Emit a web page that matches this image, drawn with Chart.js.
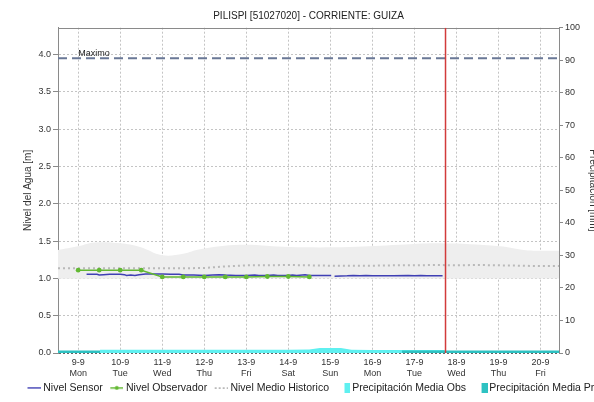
<!DOCTYPE html>
<html>
<head>
<meta charset="utf-8">
<script src="https://cdn.jsdelivr.net/npm/chart.js@4.4.1/dist/chart.umd.min.js"></script>
<style>
  html, body { margin: 0; padding: 0; background: #fff; overflow: hidden; }
  #wrap { width: 620px; height: 403px; }
</style>
</head>
<body>
<div id="wrap"><canvas id="grafico"></canvas></div>
<script>
const TITULO = "PILISPI [51027020] - CORRIENTE: GUIZA";
const FONT = "'Liberation Sans', Arial, sans-serif";

// eje x en dias desde 9-9 00:00
const X_MIN = -0.48;
const X_MAX = 11.44;
const X_TICKS = [0, 1, 2, 3, 4, 5, 6, 7, 8, 9, 10, 11];
const DIAS = ["9-9", "10-9", "11-9", "12-9", "13-9", "14-9", "15-9", "16-9", "17-9", "18-9", "19-9", "20-9"];
const SEMANA = ["Mon", "Tue", "Wed", "Thu", "Fri", "Sat", "Sun", "Mon", "Tue", "Wed", "Thu", "Fri"];

const NIVEL_MAX = 4.36;
const NIVEL_TICKS = [0, 0.5, 1, 1.5, 2, 2.5, 3, 3.5, 4];
const PRECIP_MAX = 100;
const PRECIP_TICKS = [0, 10, 20, 30, 40, 50, 60, 70, 80, 90, 100];

const MAXIMO = 3.95;
const MAXIMO_LABEL_X = 0;
const AHORA = 8.74;

const sensorX = [0.2, 0.45, 0.5, 0.6, 0.75, 1.0, 1.1, 1.15, 1.25, 1.35, 1.45, 1.6, 1.8, 2.0, 2.2, 2.4, 2.5, 2.75, 3.0, 3.2, 3.35, 3.5, 3.75, 4.0, 4.2, 4.3, 4.5, 4.65, 4.75, 5.0, 5.1, 5.2, 5.4, 5.5, 5.75, 6.02, 6.06, 6.1, 6.4, 6.55, 6.7, 6.85, 7.0, 7.5, 7.85, 8.0, 8.15, 8.3, 8.67];
const sensorY = [1.055, 1.055, 1.045, 1.05, 1.055, 1.055, 1.05, 1.04, 1.045, 1.04, 1.05, 1.06, 1.06, 1.06, 1.055, 1.055, 1.045, 1.045, 1.04, 1.045, 1.05, 1.045, 1.04, 1.04, 1.045, 1.04, 1.04, 1.045, 1.04, 1.04, 1.045, 1.04, 1.05, 1.04, 1.04, 1.04, null, 1.03, 1.035, 1.04, 1.035, 1.04, 1.035, 1.035, 1.04, 1.035, 1.04, 1.035, 1.035];

const observadorX = [0, 0.5, 1, 1.5, 2, 2.5, 3, 3.5, 4, 4.5, 5, 5.5];
const observadorY = [1.11, 1.11, 1.11, 1.11, 1.02, 1.02, 1.02, 1.02, 1.02, 1.025, 1.025, 1.02];

const historicoX = [-0.48, 0, 0.5, 1, 1.5, 2, 2.5, 3, 3.5, 4, 4.5, 5, 5.5, 6, 6.5, 7, 7.5, 8, 8.5, 9, 9.5, 10, 10.5, 11, 11.44];
const historicoY = [1.135, 1.135, 1.135, 1.135, 1.135, 1.135, 1.135, 1.14, 1.16, 1.175, 1.175, 1.18, 1.175, 1.17, 1.17, 1.17, 1.175, 1.175, 1.18, 1.175, 1.18, 1.175, 1.17, 1.165, 1.165];

const rangoAltoX = [-0.48, 0, 0.4, 1.0, 1.47, 2.0, 2.5, 2.9, 3.85, 5.03, 6.46, 7.65, 8.6, 10.03, 10.6, 10.98, 11.44];
const rangoAltoY = [1.38, 1.43, 1.48, 1.47, 1.42, 1.31, 1.33, 1.39, 1.45, 1.42, 1.42, 1.45, 1.47, 1.43, 1.38, 1.37, 1.37];
const rangoBajoX = [-0.48, 2, 4, 6, 8, 10, 11.44];
const rangoBajoY = [0.995, 0.995, 1.0, 1.0, 0.995, 1.0, 1.0];

const precipObsX = [0.52, 1, 2, 3, 4, 5, 5.5, 5.75, 6.25, 6.5, 7, 7.5, 8, 8.5, 8.72];
const precipObsY = [1.0, 1.0, 1.0, 1.0, 1.0, 1.0, 1.1, 1.5, 1.5, 1.0, 0.9, 0.9, 0.9, 0.9, 0.9];
const precipProX = [-0.48, 0.52, 0.53, 7.7, 9, 10, 11.44];
const precipProY = [0.8, 0.8, null, 0.8, 0.8, 0.8, 0.8];

const puntos = (xs, ys) => xs.map((x, i) => ({ x, y: ys[i] }));

// iconos de leyenda: el dibujo va a la derecha del lienzo para quedar pegado al texto
function icono(w, h, pintar) {
  const c = document.createElement("canvas");
  c.width = w; c.height = h;
  pintar(c.getContext("2d"), w, h);
  return c;
}

const iconos = [
  icono(21, 3, (g) => { g.fillStyle = "#3f3fb4"; g.fillRect(8, 1, 13, 1.5); }),
  icono(21, 5, (g) => {
    g.fillStyle = "#62b832"; g.fillRect(8, 2, 13, 1.5);
    g.beginPath(); g.arc(14.5, 2.75, 2, 0, Math.PI * 2); g.fill();
  }),
  icono(21, 3, (g) => { g.fillStyle = "#b9b9b9"; [8, 12, 16, 20].forEach((x) => g.fillRect(x, 1, 2, 2)); }),
  icono(23, 10, (g) => { g.fillStyle = "#5ff0f0"; g.fillRect(17, 0, 6, 10); }),
  icono(23, 10, (g) => { g.fillStyle = "#2ec2c2"; g.fillRect(17, 0, 6, 10); }),
];

const marco = {
  id: "marco",
  beforeDatasetsDraw(chart) {
    const { ctx, chartArea: a } = chart;
    ctx.save();
    ctx.strokeStyle = "#8a8a8a";
    ctx.lineWidth = 1;
    ctx.beginPath();
    ctx.moveTo(a.left, Math.round(a.top) + 0.5);
    ctx.lineTo(a.right, Math.round(a.top) + 0.5);
    ctx.stroke();
    ctx.restore();
  },
  afterDatasetsDraw(chart) {
    const { ctx, scales } = chart;
    ctx.save();
    ctx.fillStyle = "#222";
    ctx.font = "9px " + FONT;
    ctx.textAlign = "left";
    ctx.textBaseline = "alphabetic";
    ctx.fillText("Maximo", scales.x.getPixelForValue(MAXIMO_LABEL_X), scales.y.getPixelForValue(MAXIMO) - 2);
    ctx.restore();
  },
};

const tickFont = { family: FONT, size: 9 };
const titleFont = { family: FONT, size: 10 };

new Chart(document.getElementById("grafico"), {
  type: "line",
  data: {
    datasets: [
      { label: "Nivel Sensor", data: puntos(sensorX, sensorY), borderColor: "#3f3fb4", borderWidth: 1.5, pointRadius: 0, yAxisID: "y", order: 3 },
      { label: "Nivel Observador", data: puntos(observadorX, observadorY), borderColor: "#62b832", backgroundColor: "#62b832", borderWidth: 1.5, pointRadius: 2.4, pointBorderWidth: 0, yAxisID: "y", order: 2 },
      { label: "Nivel Medio Historico", data: puntos(historicoX, historicoY), borderColor: "#b9b9b9", borderWidth: 2, borderDash: [2, 3], pointRadius: 0, yAxisID: "y", order: 8 },
      { label: "Precipitación Media Obs", data: puntos(precipObsX, precipObsY), borderWidth: 0, backgroundColor: "#5ff0f0", fill: "origin", pointRadius: 0, yAxisID: "y2", order: 7 },
      { label: "Precipitación Media Pro", data: puntos(precipProX, precipProY), borderWidth: 0, backgroundColor: "#2ec2c2", fill: "origin", pointRadius: 0, yAxisID: "y2", order: 6 },
      { label: "rango alto", data: puntos(rangoAltoX, rangoAltoY), borderWidth: 0, backgroundColor: "#eeeeee", fill: "+1", pointRadius: 0, tension: 0.4, yAxisID: "y", order: 10 },
      { label: "rango bajo", data: puntos(rangoBajoX, rangoBajoY), borderWidth: 0, fill: false, pointRadius: 0, yAxisID: "y", order: 11 },
      { label: "Maximo", data: puntos([X_MIN, X_MAX], [MAXIMO, MAXIMO]), borderColor: "#6a7896", borderWidth: 2, borderDash: [9, 5], pointRadius: 0, yAxisID: "y", order: 4 },
      { label: "ahora", data: puntos([AHORA, AHORA], [0, NIVEL_MAX]), borderColor: "#d23b3b", borderWidth: 1.5, pointRadius: 0, yAxisID: "y", order: 1 },
    ],
  },
  options: {
    responsive: true,
    maintainAspectRatio: false,
    animation: false,
    events: [],
    layout: { padding: { left: 20, right: 0, top: 0, bottom: 0 } },
    plugins: {
      title: { display: true, text: TITULO, fullSize: false, color: "#222", font: { ...titleFont, weight: "normal" }, padding: { top: 10, bottom: 5.7 } },
      legend: {
        position: "bottom",
        align: "start",
        labels: {
          usePointStyle: true,
          pointStyleWidth: 16,
          padding: 2,
          color: "#222",
          font: { family: FONT, size: 10.5 },
          generateLabels: (chart) =>
            Chart.defaults.plugins.legend.labels.generateLabels(chart).map((it) => ({ ...it, pointStyle: iconos[it.datasetIndex] || it.pointStyle })),
          filter: (it) => it.datasetIndex < 5,
          sort: (a, b) => a.datasetIndex - b.datasetIndex,
        },
      },
      tooltip: { enabled: false },
    },
    scales: {
      x: {
        type: "linear",
        min: X_MIN,
        max: X_MAX,
        afterBuildTicks: (s) => { s.ticks = X_TICKS.map((v) => ({ value: v })); },
        afterFit: (s) => { s.height = 27.5; },
        grid: { color: "#c4c4c4", drawTicks: false },
        border: { display: false, dash: [2, 2] },
        ticks: { padding: 4.6, color: "#333", font: tickFont, maxRotation: 0, autoSkip: false, callback: (v, i) => [DIAS[i], SEMANA[i]] },
      },
      y: {
        position: "left",
        min: 0,
        max: NIVEL_MAX,
        afterBuildTicks: (s) => { s.ticks = NIVEL_TICKS.map((v) => ({ value: v })); },
        afterFit: (s) => { s.width = 38; },
        grid: { color: (c) => (c.tick && c.tick.value === 0 ? "#666" : "#c4c4c4"), tickLength: 5, tickColor: "#8a8a8a" },
        border: { color: "#8a8a8a", dash: [2, 2] },
        ticks: { padding: 2, color: "#333", font: tickFont, callback: (v) => Number(v).toFixed(1) },
        title: { display: true, text: "Nivel del Agua [m]", color: "#333", font: titleFont, padding: { top: 2, bottom: 0 } },
      },
      y2: {
        position: "right",
        min: 0,
        max: PRECIP_MAX,
        afterBuildTicks: (s) => { s.ticks = PRECIP_TICKS.map((v) => ({ value: v })); },
        afterFit: (s) => { s.width = 61; },
        grid: { drawOnChartArea: false, tickLength: 4, tickColor: "#8a8a8a" },
        border: { color: "#8a8a8a" },
        ticks: { padding: 2, color: "#333", font: tickFont },
        title: { display: true, text: "Precipitación [mm]", color: "#333", font: titleFont, padding: { top: 21, bottom: 0 } },
      },
    },
  },
  plugins: [marco],
});
</script>
</body>
</html>
